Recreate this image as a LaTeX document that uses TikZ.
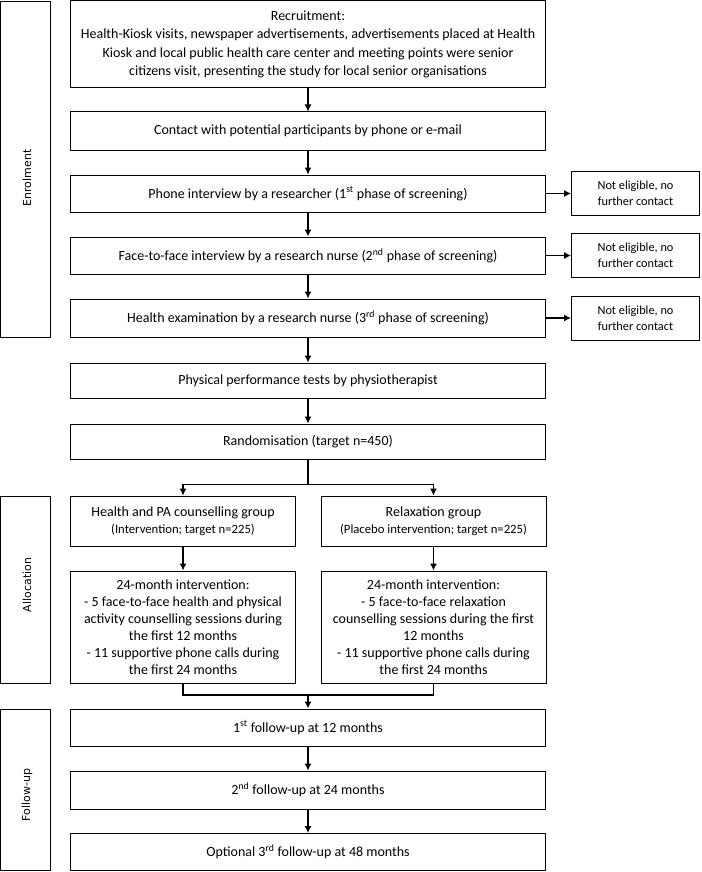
\documentclass[tikz,border=0pt]{standalone}
\usepackage{fontspec}
\setmainfont{Carlito}
\newfontfamily\sidefont{DejaVu Sans}
\usetikzlibrary{arrows.meta}
\tikzset{>={Latex[length=7pt,width=7pt]}}
\tikzset{
	box/.style={draw, line width=1pt, align=center, inner sep=2pt,
		font=\fontsize{14}{17}\selectfont},
	mainbox/.style={box, minimum width=475pt},
	halfbox/.style={box, minimum width=225pt},
	nebox/.style={box, minimum width=128pt, minimum height=44pt,
		font=\fontsize{12.3}{16}\selectfont},
	sidebox/.style={draw, line width=0.8pt, minimum width=50pt},
	sidelabel/.style={rotate=90, font=\sidefont\fontsize{11}{13}\selectfont},
}

\begin{document}
\begin{tikzpicture}[x=1pt,y=-1pt,line width=1.1pt]
	\useasboundingbox (0,0) rectangle (701,872);

	% phases
	\node[sidebox, minimum height=336pt] (enrol) at (25.5,169) {};
	\node[sidelabel] (enrollab) at (27,178) {Enrolment};
	\node[sidebox, minimum height=187pt] (alloc) at (25.5,589.5) {};
	\node[sidelabel] (alloclab) at (27,585) {Allocation};
	\node[sidebox, minimum height=161pt] (follow) at (25.5,790) {};
	\node[sidelabel] (followlab) at (27,795) {Follow-up};

	% enrolment
	\node[mainbox, minimum height=87pt, font=\fontsize{14}{18.3}\selectfont] (recr) at (308,44.5) {Recruitment:\\
		Health-Kiosk visits, newspaper advertisements, advertisements placed at Health\\
		Kiosk and local public health care center and meeting points were senior\\
		citizens visit, presenting the study for local senior organisations};
	\node[mainbox, minimum height=38pt] (contact) at (308,131) {Contact with potential participants by phone or e-mail};
	\node[mainbox, minimum height=37pt] (phone) at (308,193.5) {Phone interview by a researcher (1\textsuperscript{st} phase of screening)};
	\node[mainbox, minimum height=37pt] (face) at (308,255.5) {Face-to-face interview by a research nurse (2\textsuperscript{nd} phase of screening)};
	\node[mainbox, minimum height=38pt] (exam) at (308,318) {Health examination by a research nurse (3\textsuperscript{rd} phase of screening)};

	\node[nebox] (ne1) at (635.5,193.5) {Not eligible, no\\further contact};
	\node[nebox] (ne2) at (635.5,255.5) {Not eligible, no\\further contact};
	\node[nebox] (ne3) at (635.5,318) {Not eligible, no\\further contact};

	\node[mainbox, minimum height=35pt] (phys) at (308,380.5) {Physical performance tests by physiotherapist};
	\node[mainbox, minimum height=35pt] (rand) at (308,441.5) {Randomisation (target n=450)};

	% allocation
	\node[halfbox, minimum height=50pt] (hpa) at (183,521) {Health and PA counselling group\\
		{\fontsize{12.7}{15}\selectfont (Intervention; target n=225)}};
	\node[halfbox, minimum height=50pt] (relax) at (433.5,521) {Relaxation group\\
		{\fontsize{12.7}{15}\selectfont (Placebo intervention; target n=225)}};
	\node[halfbox, minimum height=112pt] (int1) at (183,627) {24-month intervention:\\
		- 5 face-to-face health and physical\\
		activity counselling sessions during\\
		the first 12 months\\
		- 11 supportive phone calls during\\
		the first 24 months};
	\node[halfbox, minimum height=112pt] (int2) at (433.5,627) {24-month intervention:\\
		- 5 face-to-face relaxation\\
		counselling sessions during the first\\
		12 months\\
		- 11 supportive phone calls during\\
		the first 24 months};

	% follow-up
	\node[mainbox, minimum height=37pt] (fu1) at (308,727.5) {1\textsuperscript{st} follow-up at 12 months};
	\node[mainbox, minimum height=38pt] (fu2) at (308,790) {2\textsuperscript{nd} follow-up at 24 months};
	\node[mainbox, minimum height=37pt] (fu3) at (308,852) {Optional 3\textsuperscript{rd} follow-up at 48 months};

	% arrows
	\draw[->] (recr) -- (contact);
	\draw[->] (contact) -- (phone);
	\draw[->] (phone) -- (face);
	\draw[->] (face) -- (exam);
	\draw[->] (exam) -- (phys);
	\draw[->] (phys) -- (rand);
	\draw[->] (phone) -- (ne1);
	\draw[->] (face) -- (ne2);
	\draw[->] (exam) -- (ne3);

	\coordinate (split) at (308,484.5);
	\draw (rand) -- (split);
	\draw[->] (split) -| (hpa);
	\draw[->] (split) -| (relax);
	\draw[->] (hpa) -- (int1);
	\draw[->] (relax) -- (int2);

	\coordinate (merge) at (308,695);
	\draw (int1) |- (merge);
	\draw (int2) |- (merge);
	\draw[->] (merge) -- (fu1);
	\draw[->] (fu1) -- (fu2);
	\draw[->] (fu2) -- (fu3);
\end{tikzpicture}
\end{document}
